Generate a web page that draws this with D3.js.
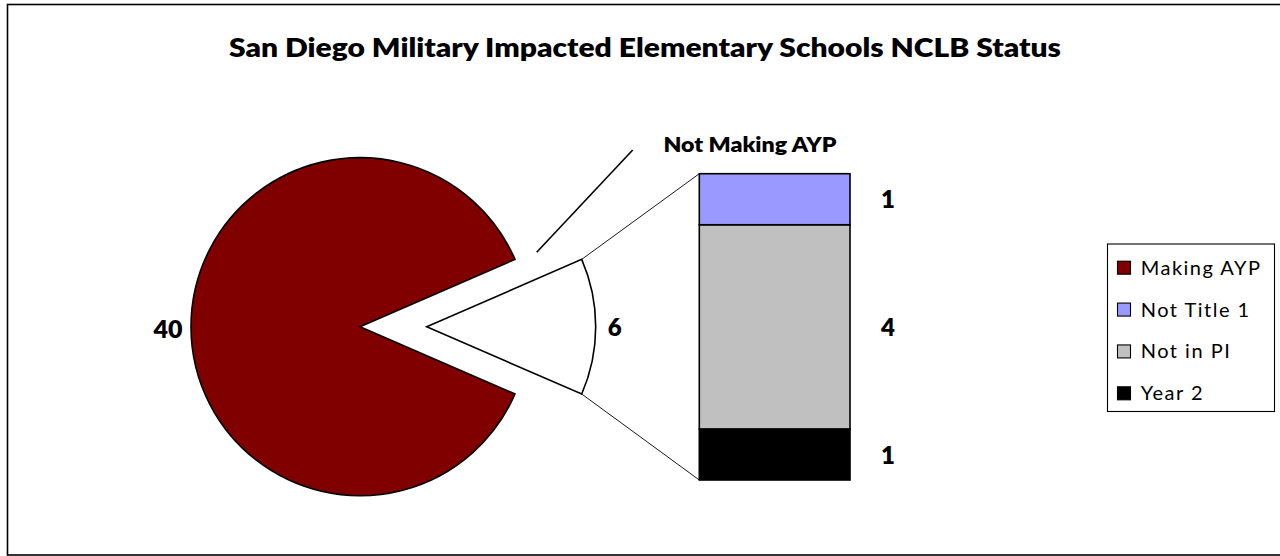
<!DOCTYPE html>
<html>
<head>
<meta charset="utf-8">
<script src="https://cdn.jsdelivr.net/npm/d3@7"></script>
<style>
  html, body { margin: 0; padding: 0; background: #fff; }
  svg { display: block; }
  text { font-family: Lato, "Open Sans", sans-serif; fill: #000; }
</style>
</head>
<body>
<svg id="chart" width="1280" height="556"></svg>
<script>
// ---- data ----
const title = "San Diego Military Impacted Elementary Schools NCLB Status";
const pieCategories = ["Making AYP", "Not Making AYP"];
const pieValues = [40, 6];
const barCategories = ["Year 2", "Not in PI", "Not Title 1"]; // bottom to top
const barValues = [1, 4, 1];
const legendCategories = ["Making AYP", "Not Title 1", "Not in PI", "Year 2"];
const legendColors = ["#800000", "#9999FF", "#C0C0C0", "#000000"];

const colorOf = d3.scaleOrdinal().domain(legendCategories).range(legendColors);

const svg = d3.select("#chart");

// outer border
svg.append("rect").attr("x", 7.5).attr("y", 4.5).attr("width", 1300).attr("height", 550.5)
  .attr("fill", "#fff").attr("stroke", "#000").attr("stroke-width", 1.6);

// title
svg.append("text").attr("x", 645).attr("y", 56.5).attr("text-anchor", "middle")
  .attr("font-size", 26).attr("font-weight", 800)
  .attr("textLength", 832).attr("lengthAdjust", "spacingAndGlyphs")
  .text(title);

// ---- pie ----
const cx = 360, cy = 326.7, r = 169, explode = 66.7;
const total = d3.sum(pieValues);
const half = Math.PI * pieValues[1] / total;
const pie = d3.pie().sort(null).value(d => d)
  .startAngle(Math.PI / 2 + half).endAngle(Math.PI / 2 + half + 2 * Math.PI);
const arcs = pie(pieValues);
const arcGen = d3.arc().innerRadius(0).outerRadius(r);

const pg = svg.append("g");
arcs.forEach((a, i) => {
  const mid = (a.startAngle + a.endAngle) / 2;
  const off = i === 1 ? explode : 0;
  const ox = cx + off * Math.sin(mid), oy = cy - off * Math.cos(mid);
  pg.append("path").attr("d", arcGen(a))
    .attr("transform", `translate(${ox},${oy})`)
    .attr("fill", i === 0 ? colorOf("Making AYP") : "#fff")
    .attr("stroke", "#000").attr("stroke-width", 1.6).attr("stroke-linejoin", "miter");
});

// value labels of pie
const sx = cx + explode; // exploded slice vertex
svg.append("text").attr("x", cx - r - 23).attr("y", cy + 5).attr("text-anchor", "middle")
  .attr("dominant-baseline", "middle").attr("font-size", 25).attr("font-weight", 800)
  .text(pieValues[0]);
svg.append("text").attr("x", sx + r + 19).attr("y", cy + 3).attr("text-anchor", "middle")
  .attr("dominant-baseline", "middle").attr("font-size", 24).attr("font-weight", 800)
  .text(pieValues[1]);

// ---- bar of pie ----
const barX = d3.scaleBand().domain(["bar"]).range([699.3, 850]).padding(0);
const barY = d3.scaleLinear().domain([0, d3.sum(barValues)]).range([480, 173.7]);
let acc = 0;
const stacks = barValues.map((v, i) => { const s = { cat: barCategories[i], v, y0: acc, y1: acc + v }; acc += v; return s; });

// connector lines
const aStart = Math.PI / 2 - half; // top edge (d3 angle convention)
const aEnd = Math.PI / 2 + half;
const topPt = [sx + r * Math.sin(aStart), cy - r * Math.cos(aStart)];
const botPt = [sx + r * Math.sin(aEnd), cy - r * Math.cos(aEnd)];
svg.append("line").attr("x1", topPt[0]).attr("y1", topPt[1])
  .attr("x2", barX("bar")).attr("y2", barY(d3.sum(barValues)))
  .attr("stroke", "#000").attr("stroke-width", 0.9);
svg.append("line").attr("x1", botPt[0]).attr("y1", botPt[1])
  .attr("x2", barX("bar")).attr("y2", barY(0))
  .attr("stroke", "#000").attr("stroke-width", 0.9);

svg.append("g").selectAll("rect").data(stacks).join("rect")
  .attr("x", barX("bar")).attr("width", barX.bandwidth())
  .attr("y", d => barY(d.y1)).attr("height", d => barY(d.y0) - barY(d.y1))
  .attr("fill", d => colorOf(d.cat)).attr("stroke", "#000").attr("stroke-width", 1.6);

svg.append("g").selectAll("text").data(stacks).join("text")
  .attr("x", 888).attr("y", d => (barY(d.y0) + barY(d.y1)) / 2 + 3)
  .attr("text-anchor", "middle").attr("dominant-baseline", "middle")
  .attr("font-size", 24).attr("font-weight", 800)
  .text(d => d.v);

// "Not Making AYP" label with leader line
svg.append("line").attr("x1", 536.7).attr("y1", 252.3).attr("x2", 632.7).attr("y2", 150)
  .attr("stroke", "#000").attr("stroke-width", 1.6);
svg.append("text").attr("x", 750).attr("y", 151.5).attr("text-anchor", "middle")
  .attr("font-size", 20).attr("font-weight", 800)
  .attr("textLength", 173).attr("lengthAdjust", "spacingAndGlyphs")
  .text(pieCategories[1]);

// ---- legend ----
const lg = svg.append("g");
lg.append("rect").attr("x", 1107.5).attr("y", 244).attr("width", 167).attr("height", 167.5)
  .attr("fill", "#fff").attr("stroke", "#000").attr("stroke-width", 1.1);
const ly = d3.scalePoint().domain(legendCategories).range([267.7, 393.3]);
legendCategories.forEach(c => {
  lg.append("rect").attr("x", 1117.5).attr("y", ly(c) - 6.5).attr("width", 13).attr("height", 13)
    .attr("fill", colorOf(c)).attr("stroke", "#000").attr("stroke-width", 1.1);
  lg.append("text").attr("x", 1140.7).attr("y", ly(c) + 7)
    .attr("font-size", 20).attr("letter-spacing", 1.5)
    .text(c);
});
</script>
</body>
</html>
